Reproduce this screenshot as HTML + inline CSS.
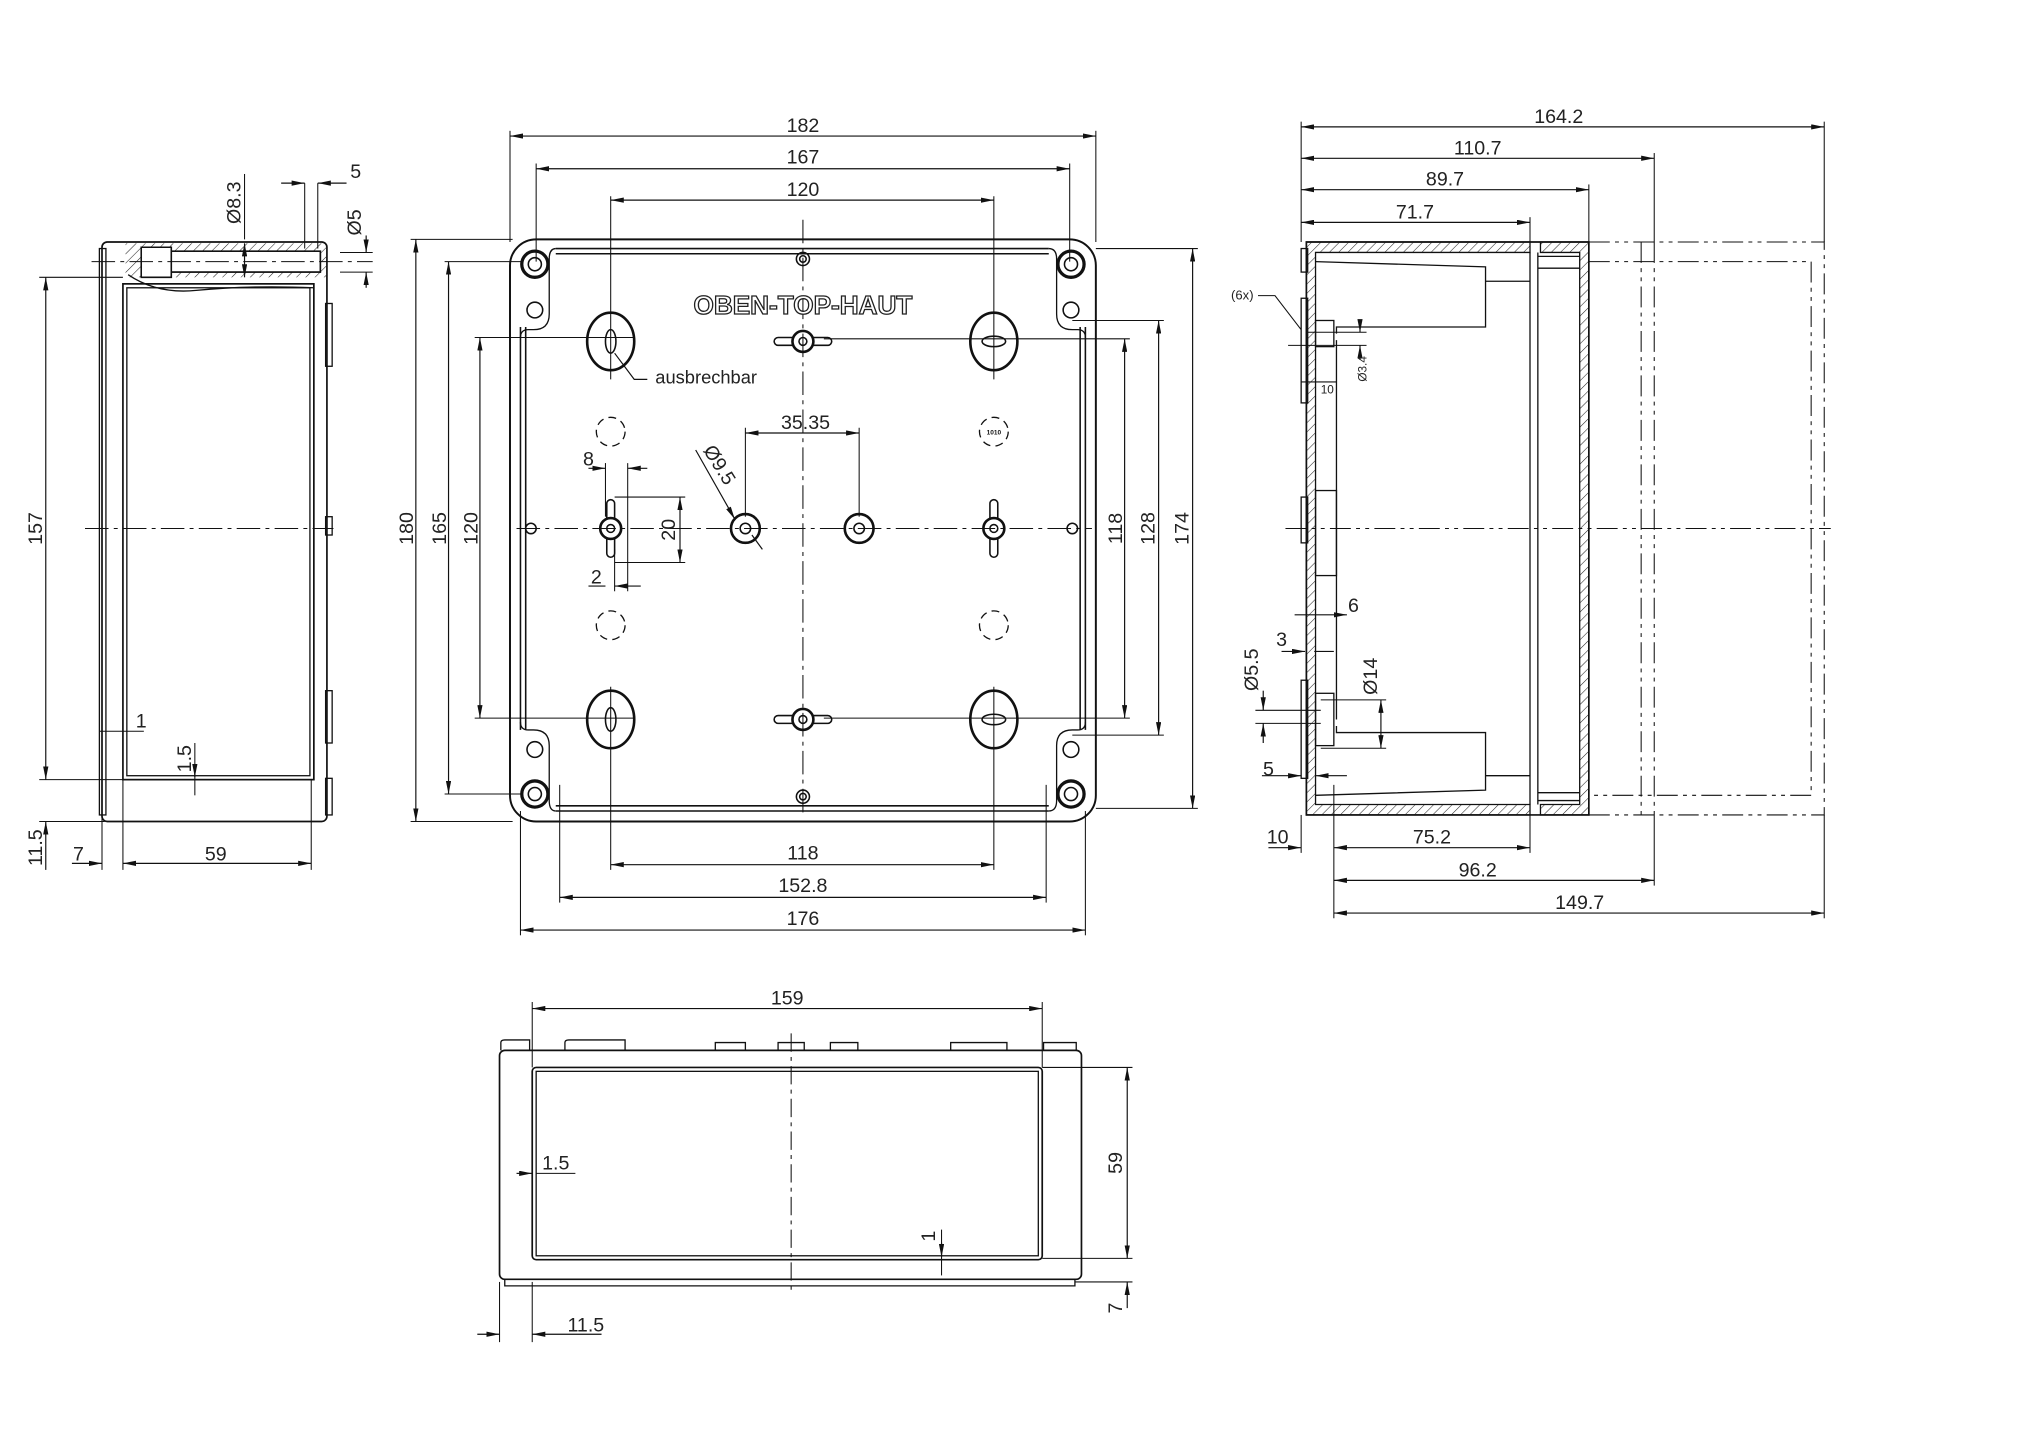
<!DOCTYPE html>
<html><head><meta charset="utf-8"><style>html,body{margin:0;padding:0;background:#fff}svg{display:block}</style></head><body>
<svg width="2040" height="1452" viewBox="0 0 1560 1110" preserveAspectRatio="none" xmlns="http://www.w3.org/2000/svg">
<defs>
<marker id="a" viewBox="0 0 10 4" refX="10" refY="2" markerWidth="10" markerHeight="4" markerUnits="userSpaceOnUse" orient="auto-start-reverse"><path d="M0,0L10,2L0,4z" fill="#111"/></marker>
<pattern id="h" width="5" height="5" patternUnits="userSpaceOnUse" patternTransform="rotate(45)"><line x1="0" y1="0" x2="0" y2="5" stroke="#222" stroke-width="0.8"/></pattern>
</defs>
<g fill="none" stroke="#111" stroke-width="1">
<!-- ================= FRONT VIEW ================= -->
<rect x="390" y="183" width="448" height="445" rx="20" stroke-width="1.5"/>
<path d="M425,190 H802 M425,194 H802 M398,250 V558 M402,250 V558 M830,250 V558 M826,250 V558 M425,620 H802 M425,616 H802" stroke-width="1.2"/>
<path d="M425,190 Q420,190 420,198 V240 Q420,252 408,252 H404 Q398,252 398,258" />
<path d="M802,190 Q808,190 808,198 V240 Q808,252 820,252 H824 Q830,252 830,258"/>
<path d="M425,620 Q420,620 420,612 V570 Q420,558 408,558 H404 Q398,558 398,552"/>
<path d="M802,620 Q808,620 808,612 V570 Q808,558 820,558 H824 Q830,558 830,552"/>
<g stroke-width="1.2">
<circle cx="409" cy="202" r="10" stroke-width="2.5"/><circle cx="409" cy="202" r="5"/>
<circle cx="819" cy="202" r="10" stroke-width="2.5"/><circle cx="819" cy="202" r="5"/>
<circle cx="409" cy="607" r="10" stroke-width="2.5"/><circle cx="409" cy="607" r="5"/>
<circle cx="819" cy="607" r="10" stroke-width="2.5"/><circle cx="819" cy="607" r="5"/>
<circle cx="409" cy="237" r="6"/><circle cx="819" cy="237" r="6"/><circle cx="409" cy="573" r="6"/><circle cx="819" cy="573" r="6"/>
<ellipse cx="467" cy="261" rx="18" ry="22" stroke-width="2"/><ellipse cx="467" cy="261" rx="4" ry="9"/>
<ellipse cx="760" cy="261" rx="18" ry="22" stroke-width="2"/><ellipse cx="760" cy="261" rx="9" ry="4"/>
<ellipse cx="467" cy="550" rx="18" ry="22" stroke-width="2"/><ellipse cx="467" cy="550" rx="4" ry="9"/>
<ellipse cx="760" cy="550" rx="18" ry="22" stroke-width="2"/><ellipse cx="760" cy="550" rx="9" ry="4"/>
<rect x="592" y="258" width="44" height="6" rx="3"/><circle cx="614" cy="261" r="8" fill="#fff" stroke-width="2"/><circle cx="614" cy="261" r="3"/>
<rect x="592" y="547" width="44" height="6" rx="3"/><circle cx="614" cy="550" r="8" fill="#fff" stroke-width="2"/><circle cx="614" cy="550" r="3"/>
<rect x="464" y="382" width="6" height="44" rx="3"/><circle cx="467" cy="404" r="8" fill="#fff" stroke-width="2"/><circle cx="467" cy="404" r="3"/>
<rect x="757" y="382" width="6" height="44" rx="3"/><circle cx="760" cy="404" r="8" fill="#fff" stroke-width="2"/><circle cx="760" cy="404" r="3"/>
<circle cx="614" cy="198" r="5"/><circle cx="614" cy="198" r="2.5"/>
<circle cx="614" cy="609" r="5"/><circle cx="614" cy="609" r="2.5"/>
<circle cx="406" cy="404" r="4"/><circle cx="820" cy="404" r="4"/>
<circle cx="570" cy="404" r="11" stroke-width="2"/><circle cx="570" cy="404" r="4"/>
<circle cx="657" cy="404" r="11" stroke-width="2"/><circle cx="657" cy="404" r="4"/>
</g>
<g stroke-dasharray="6 4"><circle cx="467" cy="330" r="11"/><circle cx="760" cy="330" r="11"/><circle cx="467" cy="478" r="11"/><circle cx="760" cy="478" r="11"/></g>
<g stroke-width="0.8" stroke-dasharray="18 4 3 4">
<line x1="614" y1="168" x2="614" y2="625"/><line x1="395" y1="404" x2="835" y2="404"/>
</g>
<g stroke-width="0.8">
<line x1="467" y1="150" x2="467" y2="290"/><line x1="760" y1="150" x2="760" y2="290"/>
<line x1="467" y1="525" x2="467" y2="665"/><line x1="760" y1="525" x2="760" y2="665"/>
<line x1="363" y1="258" x2="485" y2="258"/><line x1="363" y1="549" x2="485" y2="549"/>
<line x1="340" y1="200" x2="400" y2="200"/><line x1="340" y1="607" x2="400" y2="607"/>
<line x1="314" y1="183" x2="392" y2="183"/><line x1="314" y1="628" x2="392" y2="628"/>
<line x1="630" y1="259" x2="864" y2="259"/><line x1="630" y1="549" x2="864" y2="549"/>
<line x1="820" y1="245" x2="890" y2="245"/><line x1="820" y1="562" x2="890" y2="562"/>
<line x1="838" y1="190" x2="916" y2="190"/><line x1="838" y1="618" x2="916" y2="618"/>
<line x1="390" y1="100" x2="390" y2="185"/><line x1="838" y1="100" x2="838" y2="185"/>
<line x1="410" y1="125" x2="410" y2="200"/><line x1="818" y1="125" x2="818" y2="200"/>
<line x1="428" y1="600" x2="428" y2="690"/><line x1="800" y1="600" x2="800" y2="690"/>
<line x1="398" y1="620" x2="398" y2="715"/><line x1="830" y1="620" x2="830" y2="715"/>
<line x1="570" y1="327" x2="570" y2="395"/><line x1="657" y1="327" x2="657" y2="395"/>
<line x1="463" y1="354" x2="463" y2="395"/><line x1="480" y1="354" x2="480" y2="452"/>
<line x1="470" y1="380" x2="524" y2="380"/><line x1="470" y1="430" x2="524" y2="430"/>
<line x1="470" y1="420" x2="470" y2="452"/>
</g>
<g stroke-width="0.9" marker-start="url(#a)" marker-end="url(#a)">
<line x1="390" y1="104" x2="838" y2="104"/>
<line x1="410" y1="129" x2="818" y2="129"/>
<line x1="467" y1="153" x2="760" y2="153"/>
<line x1="318" y1="183" x2="318" y2="628"/>
<line x1="343" y1="200" x2="343" y2="607"/>
<line x1="367" y1="258" x2="367" y2="549"/>
<line x1="860" y1="259" x2="860" y2="549"/>
<line x1="886" y1="245" x2="886" y2="562"/>
<line x1="912" y1="190" x2="912" y2="618"/>
<line x1="467" y1="661" x2="760" y2="661"/>
<line x1="428" y1="686" x2="800" y2="686"/>
<line x1="398" y1="711" x2="830" y2="711"/>
<line x1="570" y1="331" x2="657" y2="331"/>
<line x1="520" y1="380" x2="520" y2="430"/>
</g>
<g stroke-width="0.9">
<line x1="450" y1="358" x2="463" y2="358" marker-end="url(#a)"/><line x1="495" y1="358" x2="480" y2="358" marker-end="url(#a)"/>
<line x1="450" y1="448" x2="463" y2="448"/><line x1="490" y1="448" x2="470" y2="448" marker-end="url(#a)"/>
<line x1="532" y1="344" x2="562" y2="397" marker-end="url(#a)"/><line x1="583" y1="420" x2="575" y2="409"/>
<path d="M470,270 L485,290 H495"/>
</g>
<!-- ================= LEFT SIDE VIEW ================= -->
<rect x="78" y="185" width="172" height="443" rx="4" stroke-width="1.3"/>
<rect x="76" y="190" width="5" height="433" stroke-width="1"/>
<rect x="94" y="217" width="146" height="379" stroke-width="1.3"/>
<rect x="97" y="220" width="140" height="373"/>
<rect x="96" y="186" width="154" height="26" fill="url(#h)" stroke="none"/>
<rect x="108" y="189" width="23" height="23" fill="#fff"/>
<rect x="131" y="192" width="114" height="16" fill="#fff"/>
<path d="M108,189 H131 V212 H108 Z M131,192 H245 V208 H131" stroke-width="1.2"/>
<path d="M98,210 Q120,225 150,222 Q190,218 240,220" />
<rect x="249" y="232" width="5" height="48"/><rect x="249" y="395" width="5" height="14"/><rect x="249" y="528" width="5" height="40"/><rect x="249" y="595" width="5" height="28"/>
<g stroke-width="0.8" stroke-dasharray="18 4 3 4"><line x1="65" y1="404" x2="255" y2="404"/><line x1="70" y1="200" x2="285" y2="200"/></g>
<g stroke-width="0.8">
<line x1="30" y1="212" x2="94" y2="212"/><line x1="30" y1="596" x2="94" y2="596"/><line x1="30" y1="628" x2="80" y2="628"/>
<line x1="78" y1="596" x2="78" y2="665"/><line x1="94" y1="596" x2="94" y2="665"/><line x1="238" y1="596" x2="238" y2="665"/>
<line x1="233" y1="140" x2="233" y2="190"/><line x1="243" y1="140" x2="243" y2="190"/>
<line x1="260" y1="193" x2="285" y2="193"/><line x1="260" y1="208" x2="285" y2="208"/>
<line x1="187" y1="133" x2="187" y2="183"/>
<line x1="76" y1="559" x2="110" y2="559"/>
<line x1="149" y1="568" x2="149" y2="608"/>
</g>
<g stroke-width="0.9" marker-start="url(#a)" marker-end="url(#a)">
<line x1="35" y1="212" x2="35" y2="596"/>
<line x1="94" y1="660" x2="238" y2="660"/>
<line x1="187" y1="186" x2="187" y2="212"/>
</g>
<g stroke-width="0.9">
<line x1="35" y1="665" x2="35" y2="628" marker-end="url(#a)"/>
<line x1="55" y1="660" x2="78" y2="660" marker-end="url(#a)"/>
<line x1="215" y1="140" x2="233" y2="140" marker-end="url(#a)"/><line x1="265" y1="140" x2="243" y2="140" marker-end="url(#a)"/>
<line x1="280" y1="180" x2="280" y2="193" marker-end="url(#a)"/><line x1="280" y1="220" x2="280" y2="208" marker-end="url(#a)"/>
<line x1="149" y1="585" x2="149" y2="594" marker-end="url(#a)"/>
</g>
<!-- ================= RIGHT VIEW ================= -->
<path d="M999,185 H1215 V623 H999 Z" stroke-width="1.3"/>
<path d="M999,185 H1170 V193 H1006 V615 H1170 V623 H999 Z" fill="url(#h)" stroke-width="1"/>
<path d="M1178,185 H1215 V623 H1178 V615 H1208 V193 H1178 Z" fill="url(#h)"/>
<line x1="1170" y1="193" x2="1170" y2="615"/><line x1="1176" y1="193" x2="1176" y2="615"/>
<line x1="1176" y1="196" x2="1208" y2="196"/><line x1="1176" y1="612" x2="1208" y2="612"/>
<line x1="1176" y1="606" x2="1208" y2="606"/><line x1="1176" y1="205" x2="1208" y2="205"/>
<line x1="1022" y1="260" x2="1022" y2="550"/>
<path d="M1006,200 L1136,204 V250 H1022 V255" /><line x1="1136" y1="215" x2="1170" y2="215"/>
<path d="M1006,608 L1136,604 V560 H1022 V555" /><line x1="1136" y1="593" x2="1170" y2="593"/>
<rect x="1006" y="245" width="14" height="20"/><rect x="1006" y="530" width="14" height="40"/>
<rect x="1006" y="375" width="16" height="65"/>
<rect x="995" y="190" width="5" height="18"/><rect x="995" y="228" width="5" height="80"/><rect x="995" y="380" width="5" height="35"/><rect x="995" y="520" width="5" height="75"/>
<g stroke-width="0.8" stroke-dasharray="16 4 3 4 3 4">
<path d="M1215,185 H1395 V623 H1215 M1215,200 H1385 V608 H1215 M1255,185 V623 M1265,185 V623"/>
<line x1="983" y1="404" x2="1400" y2="404"/>
</g>
<g stroke-width="0.8">
<line x1="995" y1="93" x2="995" y2="185"/><line x1="1395" y1="93" x2="1395" y2="185"/>
<line x1="1265" y1="117" x2="1265" y2="185"/><line x1="1215" y1="141" x2="1215" y2="185"/><line x1="1170" y1="166" x2="1170" y2="185"/>
<line x1="995" y1="623" x2="995" y2="652"/><line x1="1020" y1="600" x2="1020" y2="702"/>
<line x1="1170" y1="623" x2="1170" y2="652"/><line x1="1265" y1="623" x2="1265" y2="677"/><line x1="1395" y1="623" x2="1395" y2="702"/>
<line x1="985" y1="264" x2="1045" y2="264"/><line x1="1000" y1="254" x2="1045" y2="254"/>
<line x1="960" y1="543" x2="1010" y2="543"/><line x1="960" y1="553" x2="1010" y2="553"/>
<line x1="1010" y1="535" x2="1060" y2="535"/><line x1="1010" y1="572" x2="1060" y2="572"/>
<path d="M962,226 H975 L995,252"/>
</g>
<g stroke-width="0.9" marker-start="url(#a)" marker-end="url(#a)">
<line x1="995" y1="97" x2="1395" y2="97"/>
<line x1="995" y1="121" x2="1265" y2="121"/>
<line x1="995" y1="145" x2="1215" y2="145"/>
<line x1="995" y1="170" x2="1170" y2="170"/>
<line x1="1020" y1="648" x2="1170" y2="648"/>
<line x1="1020" y1="673" x2="1265" y2="673"/>
<line x1="1020" y1="698" x2="1395" y2="698"/>
<line x1="1056" y1="535" x2="1056" y2="572"/>
</g>
<g stroke-width="0.9">
<line x1="970" y1="648" x2="995" y2="648" marker-end="url(#a)"/>
<line x1="1040" y1="245" x2="1040" y2="254" marker-end="url(#a)"/><line x1="1040" y1="275" x2="1040" y2="264" marker-end="url(#a)"/>
<line x1="995" y1="292" x2="1022" y2="292"/>
<line x1="990" y1="470" x2="1030" y2="470" marker-end="url(#a)"/>
<line x1="980" y1="498" x2="998" y2="498" marker-end="url(#a)"/><line x1="1020" y1="498" x2="1005" y2="498"/>
<line x1="966" y1="528" x2="966" y2="543" marker-end="url(#a)"/><line x1="966" y1="568" x2="966" y2="553" marker-end="url(#a)"/>
<line x1="965" y1="593" x2="995" y2="593" marker-end="url(#a)"/><line x1="1030" y1="593" x2="1006" y2="593" marker-end="url(#a)"/>
</g>
<!-- ================= BOTTOM VIEW ================= -->
<rect x="382" y="803" width="445" height="175" rx="4" stroke-width="1.3"/>
<rect x="407" y="816" width="390" height="147" rx="3" stroke-width="1.3"/>
<rect x="410" y="819" width="384" height="141"/>
<path d="M383,803 V797 Q383,795 386,795 H405 V803 M432,803 V797 Q432,795 435,795 H478 V803 M547,803 V797 H570 V803 M595,803 V797 H615 V803 M635,803 V797 H656 V803 M727,803 V797 H770 V803 M798,803 V797 H823 V803"/>
<path d="M386,978 V983 H822 V978"/>
<g stroke-width="0.8" stroke-dasharray="14 4 3 4"><line x1="605" y1="790" x2="605" y2="990"/></g>
<g stroke-width="0.8">
<line x1="407" y1="766" x2="407" y2="816"/><line x1="797" y1="766" x2="797" y2="816"/>
<line x1="797" y1="816" x2="866" y2="816"/><line x1="797" y1="962" x2="866" y2="962"/><line x1="822" y1="980" x2="866" y2="980"/>
<line x1="382" y1="980" x2="382" y2="1026"/><line x1="407" y1="980" x2="407" y2="1026"/>
<line x1="410" y1="897" x2="440" y2="897"/>
<line x1="720" y1="940" x2="720" y2="975"/>
</g>
<g stroke-width="0.9" marker-start="url(#a)" marker-end="url(#a)">
<line x1="407" y1="771" x2="797" y2="771"/>
<line x1="862" y1="816" x2="862" y2="962"/>
</g>
<g stroke-width="0.9">
<line x1="862" y1="1000" x2="862" y2="980" marker-end="url(#a)"/>
<line x1="365" y1="1020" x2="382" y2="1020" marker-end="url(#a)"/><line x1="460" y1="1020" x2="407" y2="1020" marker-end="url(#a)"/>
<line x1="395" y1="897" x2="407" y2="897" marker-end="url(#a)"/>
<line x1="720" y1="950" x2="720" y2="961" marker-end="url(#a)"/>
</g>
</g>
<!-- ================= TEXT ================= -->
<g font-family="Liberation Sans, sans-serif" font-size="15" fill="#222" text-anchor="middle">
<text x="614" y="101">182</text><text x="614" y="125">167</text><text x="614" y="150">120</text>
<text x="614" y="657">118</text><text x="614" y="682">152.8</text><text x="614" y="707">176</text>
<text x="616" y="328">35.35</text>
<text x="450" y="356">8</text><text x="456" y="446">2</text>
<text transform="translate(316,404) rotate(-90)">180</text>
<text transform="translate(341,404) rotate(-90)">165</text>
<text transform="translate(365,404) rotate(-90)">120</text>
<text transform="translate(516,405) rotate(-90)">20</text>
<text transform="translate(858,404) rotate(-90)">118</text>
<text transform="translate(883,404) rotate(-90)">128</text>
<text transform="translate(909,404) rotate(-90)">174</text>
<text transform="translate(546,358) rotate(58)">Ø9.5</text>
<text x="540" y="293" font-size="14">ausbrechbar</text>
<text x="614" y="240" font-size="20" font-weight="bold" fill="#fff" stroke="#222" stroke-width="1">OBEN-TOP-HAUT</text>
<text transform="translate(32,404) rotate(-90)">157</text>
<text transform="translate(32,648) rotate(-90)">11.5</text>
<text x="60" y="658">7</text><text x="165" y="658">59</text>
<text x="108" y="556">1</text>
<text transform="translate(146,580) rotate(-90)">1.5</text>
<text transform="translate(184,155) rotate(-90)">Ø8.3</text>
<text x="272" y="136">5</text>
<text transform="translate(276,170) rotate(-90)">Ø5</text>
<text x="1192" y="94">164.2</text><text x="1130" y="118">110.7</text><text x="1105" y="142">89.7</text><text x="1082" y="167">71.7</text>
<text x="1095" y="645">75.2</text><text x="1130" y="670">96.2</text><text x="1208" y="695">149.7</text>
<text x="977" y="645">10</text>
<text x="950" y="229" font-size="10">(6x)</text>
<text x="1015" y="301" font-size="9">10</text>
<text transform="translate(1045,282) rotate(-90)" font-size="9">Ø3.4</text>
<text x="1035" y="468">6</text><text x="980" y="494">3</text>
<text transform="translate(962,512) rotate(-90)">Ø5.5</text>
<text transform="translate(1053,517) rotate(-90)">Ø14</text>
<text x="970" y="593">5</text>
<text x="602" y="768">159</text>
<text x="425" y="894">1.5</text>
<text transform="translate(858,889) rotate(-90)">59</text>
<text transform="translate(715,945) rotate(-90)">1</text>
<text transform="translate(858,1000) rotate(-90)">7</text>
<text x="448" y="1018">11.5</text>
</g>
<text x="760" y="332" font-family="Liberation Sans, sans-serif" font-size="5" font-weight="bold" text-anchor="middle" fill="#111">1010</text>
</svg>
</body></html>
